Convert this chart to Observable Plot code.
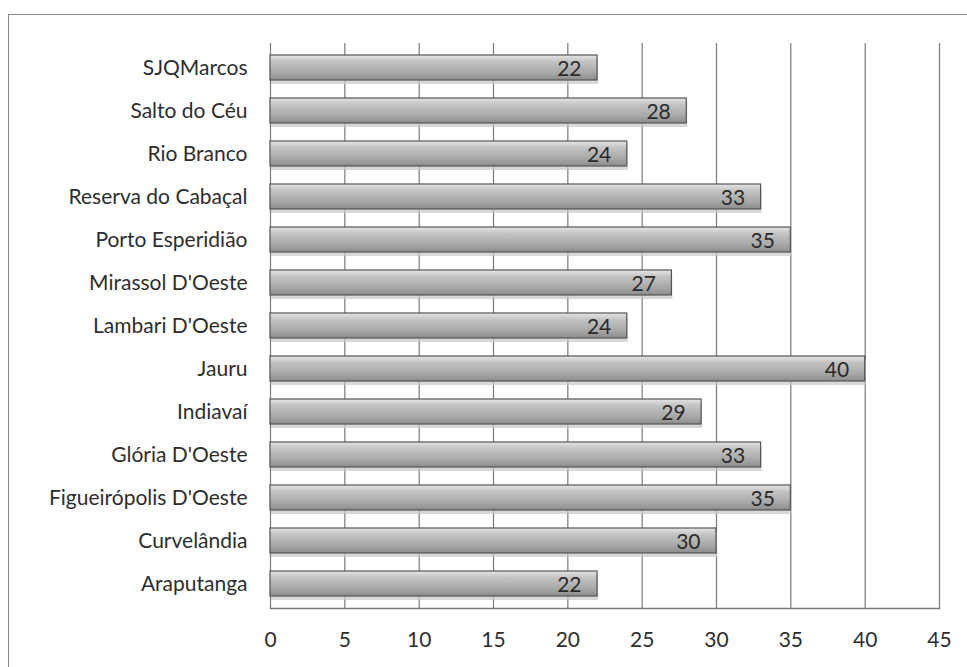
<!DOCTYPE html>
<html><head><meta charset="utf-8">
<script src="https://cdn.jsdelivr.net/npm/d3@7"></script>
<script src="https://cdn.jsdelivr.net/npm/@observablehq/plot@0.6"></script>
<style>
body{margin:0;background:#fff}
#wrap{position:relative;width:967px;height:667px;overflow:hidden}
#border{position:absolute;left:8px;top:14px;width:980px;height:680px;border-left:1.5px solid #8a8a8a;border-top:1.5px solid #8a8a8a;box-sizing:border-box}
</style>
</head><body>
<div id="wrap"><div id="border"></div><div id="chart"></div></div>
<script>
const municipios = ["SJQMarcos","Salto do Céu","Rio Branco","Reserva do Cabaçal","Porto Esperidião","Mirassol D'Oeste","Lambari D'Oeste","Jauru","Indiavaí","Glória D'Oeste","Figueirópolis D'Oeste","Curvelândia","Araputanga"];
const valores = [22,28,24,33,35,27,24,40,29,33,35,30,22];
const xTicks = [0,5,10,15,20,25,30,35,40,45];

const data = municipios.map((m,i)=>({municipio:m, valor:valores[i]}));

const chart = Plot.plot({
  width:967, height:667,
  marginLeft:270, marginRight:28, marginTop:43, marginBottom:59,
  style:{fontFamily:"Lato, 'Open Sans', sans-serif", fontSize:"21px", color:"#2e2e2e", background:"transparent", overflow:"visible"},
  x:{domain:[0,45], ticks:xTicks, label:null, tickSize:0, tickPadding:24},
  y:{domain:municipios, paddingInner:0.43, paddingOuter:0.17, label:null, tickSize:0, tickPadding:23},
  marks:[
    Plot.gridX(xTicks,{stroke:"#7a7a7a", strokeOpacity:1, strokeWidth:1.2}),
    Plot.frame({anchor:"bottom", stroke:"#7a7a7a", strokeWidth:1.5}),
    Plot.barX(data,{x:"valor", y:"municipio", fill:"#c8c8c8", fillOpacity:0.7, dy:4, dx:1}),
    Plot.barX(data,{x:"valor", y:"municipio", fill:"url(#barGrad)", stroke:"#555", strokeWidth:1.2}),
    Plot.text(data,{x:"valor", y:"municipio", text:d=>String(d.valor), textAnchor:"end", dx:-16, dy:1, fontSize:21, fill:"#2a2a2a"})
  ]
});
d3.select(chart).insert("defs",":first-child").html(
  '<linearGradient id="barGrad" x1="0" y1="0" x2="0" y2="1">'+
  '<stop offset="0" stop-color="#e6e6e6"/>'+
  '<stop offset="0.25" stop-color="#c4c4c4"/>'+
  '<stop offset="0.7" stop-color="#a8a8a8"/>'+
  '<stop offset="1" stop-color="#8c8c8c"/>'+
  '</linearGradient>');
document.getElementById("chart").append(chart);
</script>
</body></html>
